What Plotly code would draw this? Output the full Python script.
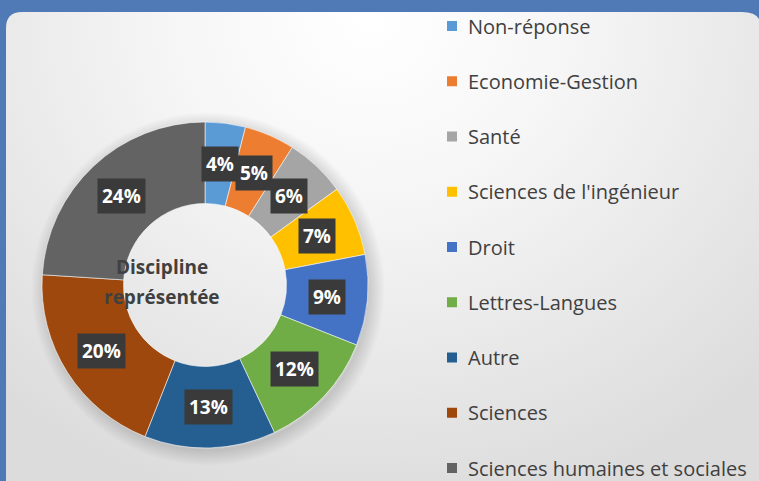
import numpy as np
import plotly.graph_objects as go

# ---- data ----
categories = ["Non-réponse", "Economie-Gestion", "Santé", "Sciences de l'ingénieur",
              "Droit", "Lettres-Langues", "Autre", "Sciences", "Sciences humaines et sociales"]
values = [4, 5, 6, 7, 9, 12, 13, 20, 24]
colors = ["#5B9BD5", "#ED7D31", "#A5A5A5", "#FFC000", "#4472C4",
          "#70AD47", "#255E91", "#9E480E", "#636363"]
center_title_lines = ["Discipline", "représentée"]

# ---- layout constants (pixels) ----
W, H = 759, 481
CX, CY, R = 205, 285, 163
HOLE = 0.5
FONT = "Open Sans"
BLUE = "#4F7AB6"

fig = go.Figure()

# soft radial light on the grey panel
t = np.linspace(0, 2 * np.pi, 160)
fig.add_trace(go.Scatter(x=370 + 560 * np.cos(t), y=20 + 500 * np.sin(t), mode="lines",
                         fill="toself", line=dict(width=0),
                         fillgradient=dict(type="radial",
                                           colorscale=[[0, "#ffffff"], [0.35, "#f6f6f6"],
                                                       [0.7, "#e8e8e8"], [1, "#dcdcdc"]]),
                         hoverinfo="skip", showlegend=False))

# donut shadow
SR = R + 14
fig.add_trace(go.Scatter(x=CX + 3 + SR * np.cos(t), y=CY + 4 + SR * np.sin(t), mode="lines",
                         fill="toself", line=dict(width=0),
                         fillgradient=dict(type="radial",
                                           colorscale=[[0, "rgba(0,0,0,0)"], [0.86, "rgba(0,0,0,0)"],
                                                       [0.91, "rgba(0,0,0,0.15)"], [1, "rgba(0,0,0,0)"]]),
                         hoverinfo="skip", showlegend=False))

# donut
fig.add_trace(go.Pie(
    labels=categories, values=values, hole=HOLE, sort=False, direction="clockwise", rotation=0,
    marker=dict(colors=colors, line=dict(color="rgba(255,255,255,0.55)", width=1)),
    textinfo="none", showlegend=False,
    domain=dict(x=[(CX - R) / W, (CX + R) / W], y=[1 - (CY + R) / H, 1 - (CY - R) / H]),
))

# data labels with dark boxes
total = sum(values)
cum = 0
RMID = R * (1 + HOLE) / 2
for v in values:
    th = 2 * np.pi * (cum + v / 2) / total
    cum += v
    fig.add_annotation(x=CX + RMID * np.sin(th), y=CY - RMID * np.cos(th), xref="x", yref="y",
                       text=f"<b>{round(100 * v / total)}%</b>", showarrow=False,
                       font=dict(family=FONT, size=19, color="white"),
                       bgcolor="#3a3a3a", borderpad=4)

# centre title
for i, line in enumerate(center_title_lines):
    fig.add_annotation(x=CX - 43, y=CY - 18 + 30 * i, xref="x", yref="y", text=f"<b>{line}</b>",
                       showarrow=False, font=dict(family=FONT, size=19, color="#404040"))

# legend (drawn as squares + labels)
LX, LY0, LDY = 447, 26, 55.25
shapes = []
for i, (c, col) in enumerate(zip(categories, colors)):
    yy = LY0 + LDY * i
    shapes.append(dict(type="rect", xref="x", yref="y", x0=LX, x1=LX + 10, y0=yy - 5, y1=yy + 5,
                       fillcolor=col, line=dict(width=0), layer="above"))
    fig.add_annotation(x=LX + 19, y=yy, xref="x", yref="y", text=c, showarrow=False,
                       xanchor="left", yanchor="middle",
                       font=dict(family=FONT, size=20, color="#404040"))

# blue frame with rounded panel corners
shapes += [
    dict(type="rect", xref="x", yref="y", x0=0, x1=W, y0=0, y1=12, fillcolor=BLUE,
         line=dict(width=0), layer="above"),
    dict(type="rect", xref="x", yref="y", x0=0, x1=6, y0=0, y1=H, fillcolor=BLUE,
         line=dict(width=0), layer="above"),
    dict(type="path", xref="x", yref="y", path="M 6 12 L 22 12 Q 6 12 6 28 Z", fillcolor=BLUE,
         line=dict(width=0), layer="above"),
    dict(type="path", xref="x", yref="y", path=f"M {W} 12 L 742 12 Q 755 12 {W} 19 Z",
         fillcolor=BLUE, line=dict(width=0), layer="above"),
]

fig.update_layout(
    width=W, height=H, margin=dict(l=0, r=0, t=0, b=0),
    paper_bgcolor="#dcdcdc", plot_bgcolor="rgba(0,0,0,0)",
    xaxis=dict(range=[0, W], visible=False, domain=[0, 1], fixedrange=True),
    yaxis=dict(range=[H, 0], visible=False, domain=[0, 1], fixedrange=True),
    shapes=shapes, showlegend=False,
    font=dict(family=FONT),
)

fig.write_html("out.html")
